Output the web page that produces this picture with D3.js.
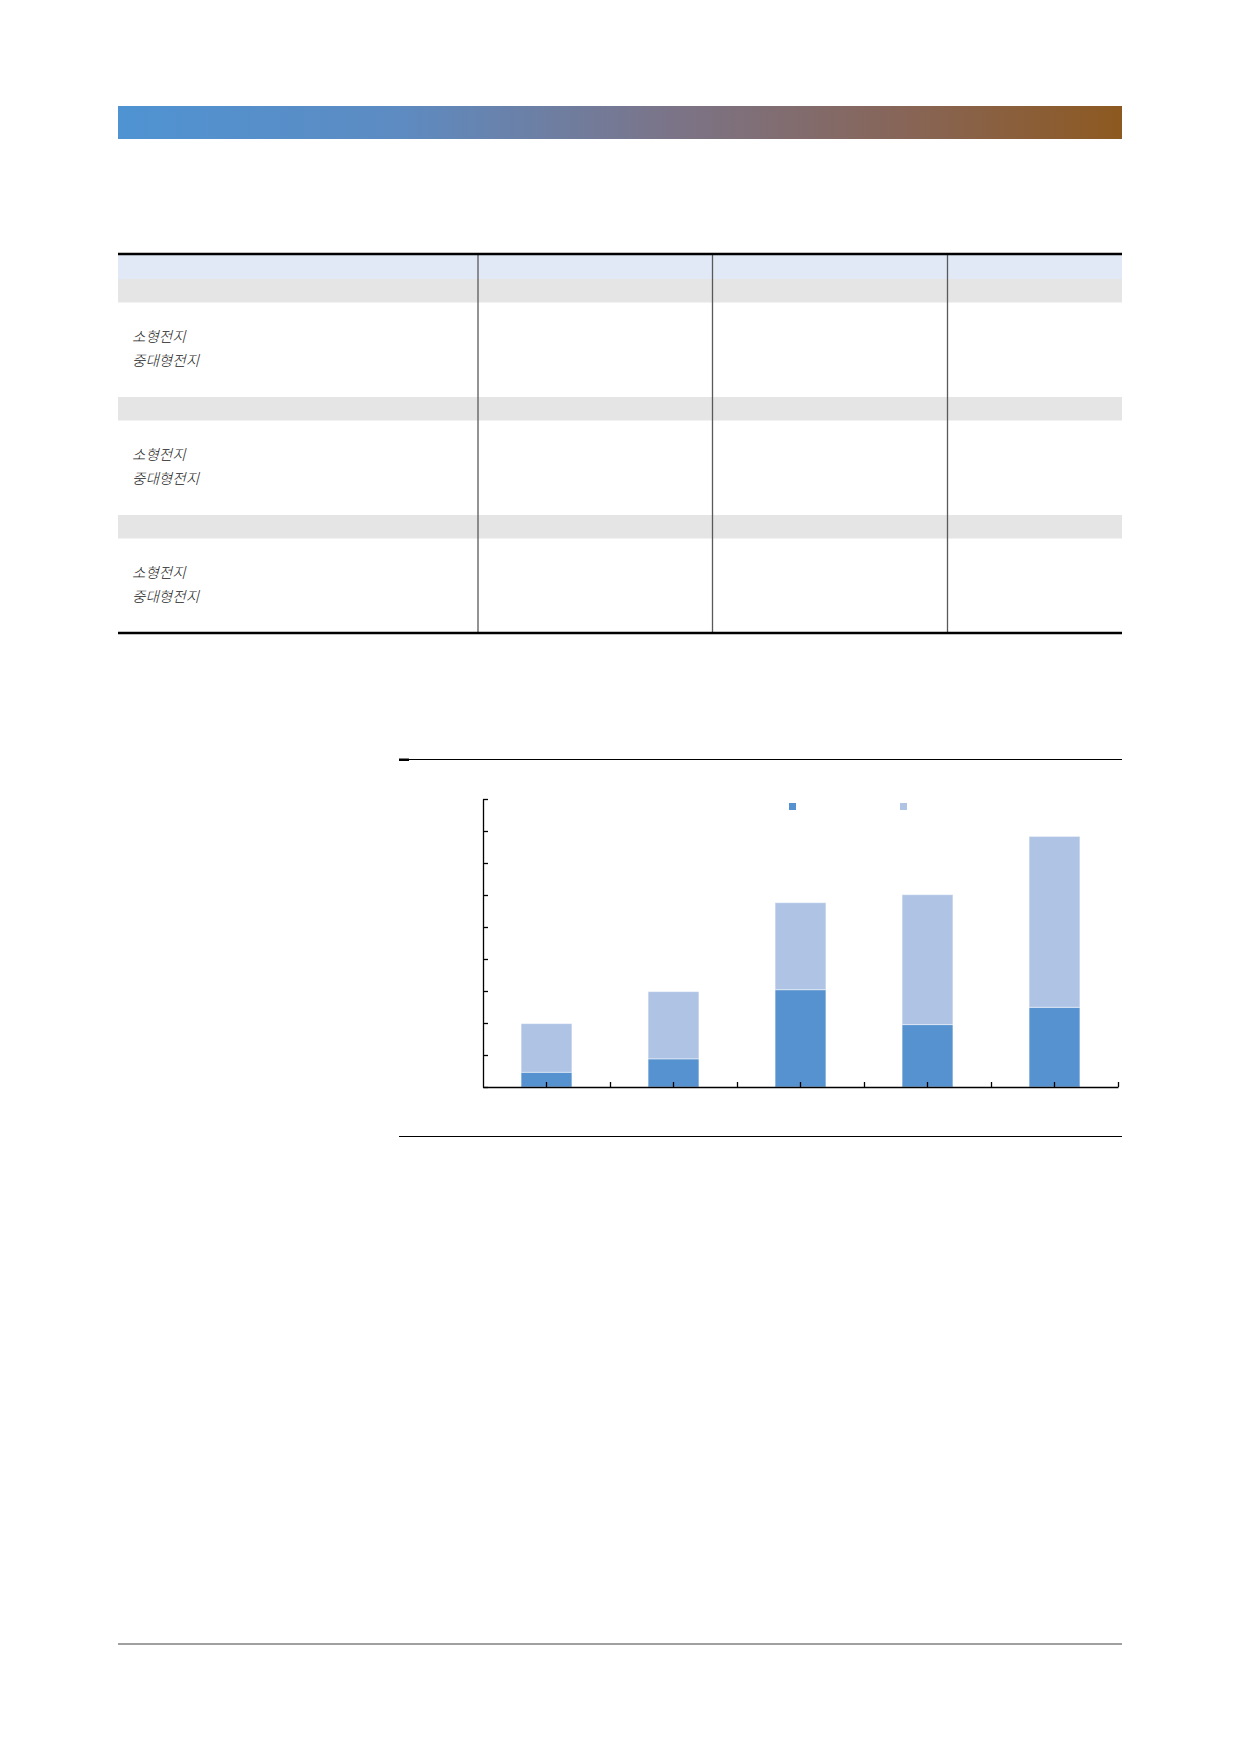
<!DOCTYPE html>
<html lang="ko">
<head>
<meta charset="utf-8">
<title>chart</title>
<script src="https://cdn.jsdelivr.net/npm/d3@7"></script>
<style>
  body { margin: 0; background: #fff; }
  svg { display: block; }
  .cell-label { font-family: "Noto Sans CJK KR", "Noto Sans", sans-serif; font-size: 14.6px; font-weight: 300; font-style: italic; fill: #1a1a1a; }
</style>
</head>
<body>
<div id="chart"></div>
<script>
// data (labels and tick labels are blank in the reference)
const categories = ['c1', 'c2', 'c3', 'c4', 'c5']
const seriesKeys = ['small', 'large']
const smallValues = [0.46, 0.88, 3.04, 1.95, 2.49]
const largeValues = [1.52, 2.10, 2.72, 4.06, 5.34]
const yTickValues = [0, 1, 2, 3, 4, 5, 6, 7, 8, 9]
const tableGroups = ['g1', 'g2', 'g3']
const subLabels = ['소형전지', '중대형전지']
const colors = { small: '#5692cf', large: '#afc3e5' }

const W = 1240, H = 1754
const svg = d3.select('#chart').append('svg')
    .attr('width', W)
    .attr('height', H)

// header gradient bar
let grad = svg.append('defs').append('linearGradient')
    .attr('id', 'hdr')
grad.selectAll('stop')
    .data([['0%', '#4f93d2'], ['28%', '#5d8bc2'], ['55%', '#7b7488'], ['78%', '#876558'], ['100%', '#8d5920']])
    .enter().append('stop')
    .attr('offset', d => d[0])
    .attr('stop-color', d => d[1])
svg.append('rect')
    .attr('x', 118).attr('y', 106)
    .attr('width', 1004).attr('height', 33)
    .attr('fill', 'url(#hdr)')

// ---- table ----
const tLeft = 118, tRight = 1122
const tTop = 254, headH = 25, greyH = 23.5, blockH = 94.5
let tbl = svg.append('g')
tbl.append('rect')
    .attr('x', tLeft).attr('y', tTop)
    .attr('width', tRight - tLeft).attr('height', headH)
    .attr('fill', '#e1e8f6')

let rowY = i => tTop + headH + i * (greyH + blockH)
tableGroups.forEach((g, i) => {
    tbl.append('rect')
        .attr('x', tLeft).attr('y', rowY(i))
        .attr('width', tRight - tLeft).attr('height', greyH)
        .attr('fill', '#e5e5e5')
    tbl.selectAll(null)
        .data(subLabels)
        .enter().append('text')
        .attr('class', 'cell-label')
        .attr('x', 132)
        .attr('y', (d, j) => rowY(i) + greyH + 39 + j * 24.5)
        .text(d => d)
})
const tBottom = rowY(3)
tbl.selectAll('line.col')
    .data([478, 712.5, 947.5])
    .enter().append('line')
    .attr('x1', d => d).attr('x2', d => d)
    .attr('y1', tTop).attr('y2', tBottom)
    .attr('stroke', '#595959')
    .attr('stroke-width', 1.3)
tbl.selectAll('line.rule')
    .data([tTop, tBottom])
    .enter().append('line')
    .attr('x1', tLeft).attr('x2', tRight)
    .attr('y1', d => d).attr('y2', d => d)
    .attr('stroke', '#000')
    .attr('stroke-width', 2.5)

// ---- chart section ----
svg.append('line')
    .attr('x1', 399).attr('x2', 1122)
    .attr('y1', 759.5).attr('y2', 759.5)
    .attr('stroke', '#000').attr('stroke-width', 1.2)
svg.append('rect')
    .attr('x', 399).attr('y', 758.5)
    .attr('width', 10).attr('height', 2.5)
    .attr('fill', '#000')
svg.append('line')
    .attr('x1', 399).attr('x2', 1122)
    .attr('y1', 1136.5).attr('y2', 1136.5)
    .attr('stroke', '#000').attr('stroke-width', 1.2)

const x = d3.scaleBand()
    .domain(categories)
    .range([483, 1118])
    .paddingInner(0.6)
    .paddingOuter(0.3)
const xEdge = d3.scaleLinear()
    .domain([0, categories.length])
    .range([483, 1118])
const y = d3.scaleLinear()
    .domain([0, 9])
    .range([1087, 799])

const table = categories.map((c, i) => ({ cat: c, small: smallValues[i], large: largeValues[i] }))
const stacked = d3.stack().keys(seriesKeys)(table)

let plot = svg.append('g')
plot.selectAll('g.series')
    .data(stacked)
    .enter().append('g')
    .attr('fill', d => colors[d.key])
    .selectAll('rect')
    .data(d => d)
    .enter().append('rect')
    .attr('x', d => x(d.data.cat))
    .attr('y', d => y(d[1]))
    .attr('width', x.bandwidth())
    .attr('height', d => y(d[0]) - y(d[1]))
    .attr('stroke', 'rgba(255,255,255,0.45)')
    .attr('stroke-width', 1)

// axes, ticks point inward, no labels
let yAxis = plot.append('g')
    .attr('transform', 'translate(483,0)')
    .call(d3.axisRight(y).tickValues(yTickValues).tickSize(5).tickSizeOuter(0).tickFormat(''))
let xAxis = plot.append('g')
    .attr('transform', 'translate(0,1087)')
    .call(d3.axisBottom(x).tickSize(-5).tickSizeOuter(0).tickFormat(''))
let xEdges = plot.append('g')
    .attr('transform', 'translate(0,1087)')
    .call(d3.axisBottom(xEdge).tickValues(d3.range(1, categories.length + 1)).tickSize(-5).tickFormat(''))
xEdges.select('.domain').remove()
plot.selectAll('.domain, .tick line')
    .attr('stroke', '#000')
    .attr('stroke-width', 1.3)

// legend swatches (legend text blank in the reference)
const legendX = d3.scalePoint().domain(seriesKeys).range([789, 900])
svg.selectAll('rect.leg')
    .data(seriesKeys)
    .enter().append('rect')
    .attr('x', d => legendX(d))
    .attr('y', 803)
    .attr('width', 7).attr('height', 7)
    .attr('fill', d => colors[d])

// footer rule
svg.append('line')
    .attr('x1', 118).attr('x2', 1122)
    .attr('y1', 1644).attr('y2', 1644)
    .attr('stroke', '#808080').attr('stroke-width', 1.5)
</script>
</body>
</html>
